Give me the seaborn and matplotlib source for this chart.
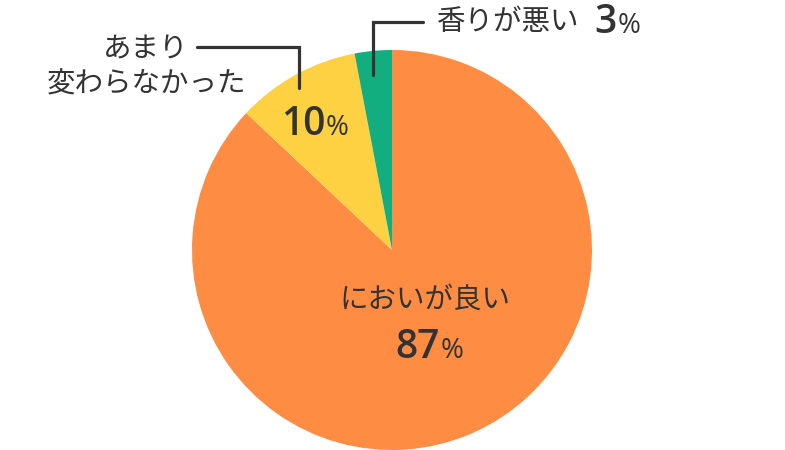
import matplotlib
matplotlib.use("Agg")
import matplotlib.pyplot as plt
import seaborn as sns

# Data
labels = ["においが良い", "あまり\n変わらなかった", "香りが悪い"]
values = [87, 10, 3]
pct_labels = ["87", "10", "3"]
colors = ["#FE8D43", "#FDD142", "#13AE7F"]

sns.set_theme(style="white")
plt.rcParams['font.family'] = ['Noto Sans CJK JP', 'DejaVu Sans']

W, H = 785, 450
fig = plt.figure(figsize=(W / 100, H / 100), dpi=100)
ax = fig.add_axes([0, 0, 1, 1])

def Y(py):
    return H - py

ax.pie(values, colors=sns.color_palette(colors), startangle=90, counterclock=False,
       center=(392, Y(250)), radius=200, wedgeprops=dict(linewidth=0))
ax.set_xlim(0, W)
ax.set_ylim(0, H)
ax.set_aspect('equal')
ax.axis('off')

tc = "#333333"
fam = ['Noto Sans CJK JP', 'DejaVu Sans']
numfam = ['Open Sans', 'DejaVu Sans']

def pct(x_right, baseline, num):
    ax.text(x_right, Y(baseline), num, ha='right', va='baseline', fontsize=28,
            fontweight='semibold', color=tc, family=numfam)
    ax.text(x_right + 1, Y(baseline), "%", ha='left', va='baseline', fontsize=20,
            color=tc, family=numfam)

# Orange label
ax.text(425, Y(300), labels[0], ha='center', va='center', fontsize=20.5, color=tc, family=fam)
pct(440, 358, pct_labels[0])

# Yellow label
ax.text(146, Y(67), labels[1], ha='center', va='center', fontsize=20.5, color=tc,
        family=fam, linespacing=1.25, multialignment='center')
pct(325, 135, pct_labels[1])
ax.plot([197, 299, 299], [Y(47), Y(47), Y(88)], color=tc, lw=2.3, solid_joinstyle='miter')

# Green label
ax.text(437, Y(22), labels[2], ha='left', va='center', fontsize=20.5, color=tc, family=fam)
pct(617, 33, pct_labels[2])
ax.plot([373, 373, 423], [Y(75), Y(22), Y(22)], color=tc, lw=2.3, solid_joinstyle='miter')

fig.savefig("out.png", dpi=100, facecolor="white")
